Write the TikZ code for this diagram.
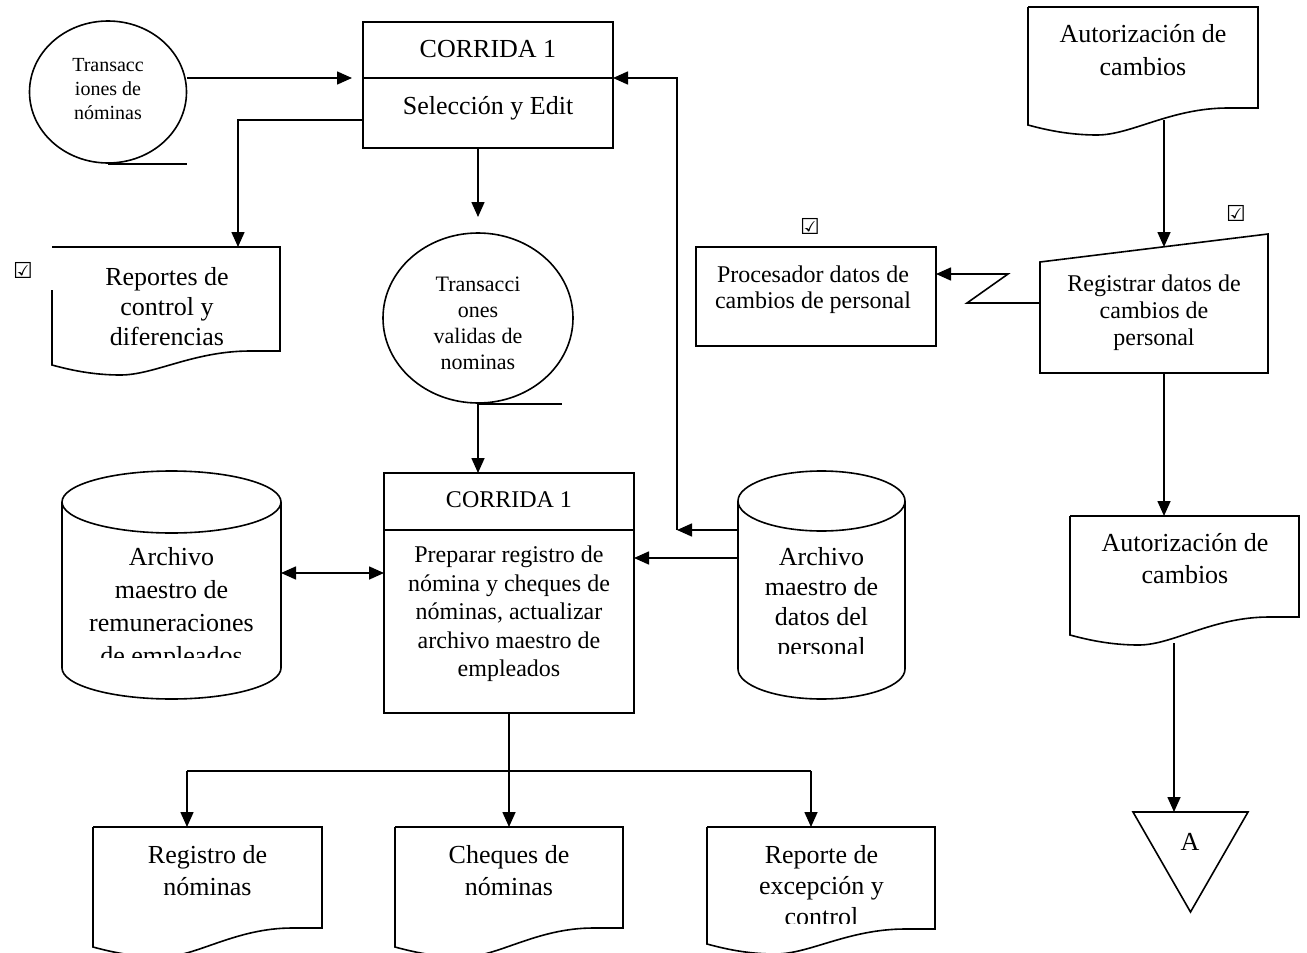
\documentclass[tikz,border=0pt]{standalone}
\usepackage{fontspec}
\setmainfont{Liberation Serif}
\newfontfamily\symbolfont{DejaVu Sans}
\usetikzlibrary{arrows.meta,shapes.geometric}

\newcommand\fsz[2]{\fontsize{#1}{#2}\selectfont}

\tikzset{
  outline/.style={draw=black, line width=1.6pt},
  link/.style={draw=black, line width=1.6pt},
  arrowed/.style={link, -{Triangle[length=15pt,width=13pt]}},
  twoway/.style={link, {Triangle[length=15pt,width=13pt]}-{Triangle[length=15pt,width=13pt]}},
  txt/.style={align=center, inner sep=0pt},
  area/.style={inner sep=0pt, outer sep=0pt},
  tick/.style={inner sep=0pt, font=\symbolfont\fsz{22}{22}},
}

% document symbol: name, left, top, right, bottom-left y, bottom-right y, start of left edge
\newcommand\docshape[7]{%
  \pgfmathsetmacro\dW{#4-#2}%
  \node[area, minimum width=\dW, minimum height={#6-#3}, anchor=north west] (#1) at (#2,#3) {};
  \draw[outline] (#2,#7) -- (#2,#5)
    .. controls ({#2+0.08*\dW},{#5+5}) and ({#2+0.18*\dW},{#5+10}) .. ({#2+0.3*\dW},{#5+10})
    .. controls ({#2+0.45*\dW},{#5+10}) and ({#2+0.62*\dW},#6) .. ({#2+0.87*\dW},#6)
    -- (#4,#6) -- (#4,#3) -- (#2,#3);
}

% disk storage symbol: name, left, right, top centre y, bottom centre y, y radius
\newcommand\diskshape[6]{%
  \pgfmathsetmacro\dkX{(#2+#3)/2}%
  \pgfmathsetmacro\dkR{(#3-#2)/2}%
  \pgfmathsetmacro\dkA{0.5523*\dkR}%
  \pgfmathsetmacro\dkB{0.5523*#6}%
  \node[area, minimum width={#3-#2}, minimum height={#5-#4+2*#6}] (#1) at (\dkX,{(#4+#5)/2}) {};
  \draw[outline] (\dkX,#4) ellipse [x radius=\dkR, y radius=#6];
  \draw[outline] (#2,#4) -- (#2,#5)
    .. controls (#2,{#5+\dkB}) and ({\dkX-\dkA},{#5+#6}) .. (\dkX,{#5+#6})
    .. controls ({\dkX+\dkA},{#5+#6}) and (#3,{#5+\dkB}) .. (#3,#5) -- (#3,#4);
}

\begin{document}
\begin{tikzpicture}[x=1pt,y=-1pt]
\useasboundingbox (0,0) rectangle (1307,953);
\fill[white] (0,0) rectangle (1307,953);

% ---- payroll transactions tape
\node[ellipse, outline, minimum width=157, minimum height=142, inner sep=0pt] (tin) at (108,92) {};
\node[txt, font=\fsz{20}{24}] (tint) at (108,89) {Transacc\\iones de\\nóminas};
\draw[outline] (tin.south) -- (tin.south -| tin.east);

% ---- run 1: selection and edit
\node[area, outline, minimum width=250, minimum height=126] (run1) at (488,85) {};
\draw[outline] (run1.west |- 0,78) -- (run1.east |- 0,78);
\node[txt, font=\fsz{26}{30}] (run1a) at (488,49) {CORRIDA 1};
\node[txt, font=\fsz{26}{30}] (run1b) at (488,108) {Selección y Edit};
\draw[arrowed, shorten >=11pt] (tin.east |- 0,78) -- (run1.west |- 0,78);

% ---- control reports
\docshape{rep}{52}{247}{280}{365}{351}{290}
\node[txt, font=\fsz{26}{30}] (rept) at (167,307) {Reportes de\\control y\\diferencias};
\node[tick] (tk1) at (23,270) {☑};
\draw[arrowed] (run1.west |- 0,120) -| ([xshift=-42pt]rep.north east);

% ---- valid transactions tape
\coordinate (valtip) at (478,217);
\draw[arrowed] (run1.south -| valtip) -- (valtip);
\node[ellipse, outline, minimum width=190, minimum height=170, inner sep=0pt] (val) at (478,318) {};
\node[txt, font=\fsz{22}{26}] (valt) at (478,323) {Transacci\\ones\\validas de\\nominas};
\draw[outline] (val.south) -- ([xshift=84pt]val.south);

% ---- run 1: payroll preparation
\node[area, outline, minimum width=250, minimum height=240] (run2) at (509,593) {};
\draw[outline] (run2.west |- 0,530) -- (run2.east |- 0,530);
\node[txt, font=\fsz{24}{28}] (run2a) at (509,500) {CORRIDA 1};
\node[txt, font=\fsz{24}{28.5}] (run2b) at (509,614)
  {Preparar registro de\\nómina y cheques de\\nóminas, actualizar\\archivo maestro de\\empleados};
\draw[arrowed] (val.south) -- (val.south |- run2.north);

% ---- master files
\diskshape{lcyl}{62}{281}{502}{668}{31}
\begin{scope}
  \clip (62,440) rectangle (281,657);
  \node[txt, font=\fsz{26}{33}] (lcylt) at (171.5,609) {Archivo\\maestro de\\remuneraciones\\de empleados};
\end{scope}
\draw[twoway] (lcyl.east |- 0,573) -- (run2.west |- 0,573);

\diskshape{rcyl}{738}{905}{501}{669}{30}
\begin{scope}
  \clip (738,440) rectangle (905,653);
  \node[txt, font=\fsz{26}{30}] (rcylt) at (821.5,604) {Archivo\\maestro de\\datos del\\personal};
\end{scope}
\coordinate (bend) at (677,530);
\draw[arrowed] (rcyl.west |- bend) -- (bend);
\draw[arrowed] (bend) |- (run1.east |- 0,78);
\draw[arrowed] (rcyl.west |- 0,558) -- (run2.east |- 0,558);

% ---- output documents
\docshape{regn}{93}{827}{322}{947}{928}{827}
\docshape{cheq}{395}{827}{623}{947}{928}{827}
\docshape{rexc}{707}{827}{935}{944}{929}{827}
\node[txt, font=\fsz{26}{32}] (regnt) at (207.5,871) {Registro de\\nóminas};
\node[txt, font=\fsz{26}{32}] (cheqt) at (509,871) {Cheques de\\nóminas};
\begin{scope}
  \clip (707,827) rectangle (935,923);
  \node[txt, font=\fsz{26}{31}] (rexct) at (821.5,886) {Reporte de\\excepción y\\control};
\end{scope}
\coordinate (busL) at (187,771);
\coordinate (busR) at (811,771);
\draw[link] (busL) -- (busR);
\draw[arrowed] (run2.south) -- (run2.south |- cheq.north);
\draw[arrowed] (busL) -- (busL |- regn.north);
\draw[arrowed] (busR) -- (busR |- rexc.north);

% ---- personnel changes
\docshape{auth1}{1028}{7}{1258}{125}{108}{7}
\node[txt, font=\fsz{26}{33}] (auth1t) at (1143,50) {Autorización de\\cambios};

\node[area, minimum width=228, minimum height=139] (reg) at (1154,303.5) {};
\draw[outline] (reg.south west) -- (reg.west |- 0,262) -- (reg.north east) -- (reg.south east) -- cycle;
\node[txt, font=\fsz{24}{27}] (regt) at (1154,313) {Registrar datos de\\cambios de\\personal};
\node[tick] (tk3) at (1236,213) {☑};
\coordinate (a1out) at (1164,120);
\coordinate (regin) at (1164,247);
\draw[arrowed] (a1out) -- (regin);

\node[area, outline, minimum width=240, minimum height=99] (proc) at (816,296.5) {};
\node[txt, font=\fsz{24}{26}] (proct) at (813,290) {Procesador datos de\\cambios de personal};
\node[tick] (tk2) at (810,226) {☑};
\draw[arrowed] (reg.west |- 0,303) -- (967,303) -- (1008,274) -- (proc.east |- 0,274);

\docshape{auth2}{1070}{516}{1299}{635}{617}{516}
\node[txt, font=\fsz{26}{32}] (auth2t) at (1185,559) {Autorización de\\cambios};
\draw[arrowed] (reg.south -| regin) -- (regin |- auth2.north);

\node[area, minimum width=115, minimum height=100] (tri) at (1190.5,862) {};
\draw[outline] (tri.north west) -- (tri.north east) -- (tri.south) -- cycle;
\node[txt, font=\fsz{26}{30}] (tria) at (1190,842) {A};
\coordinate (a2out) at (1174,643);
\draw[arrowed] (a2out) -- (a2out |- tri.north);

\end{tikzpicture}
\end{document}
